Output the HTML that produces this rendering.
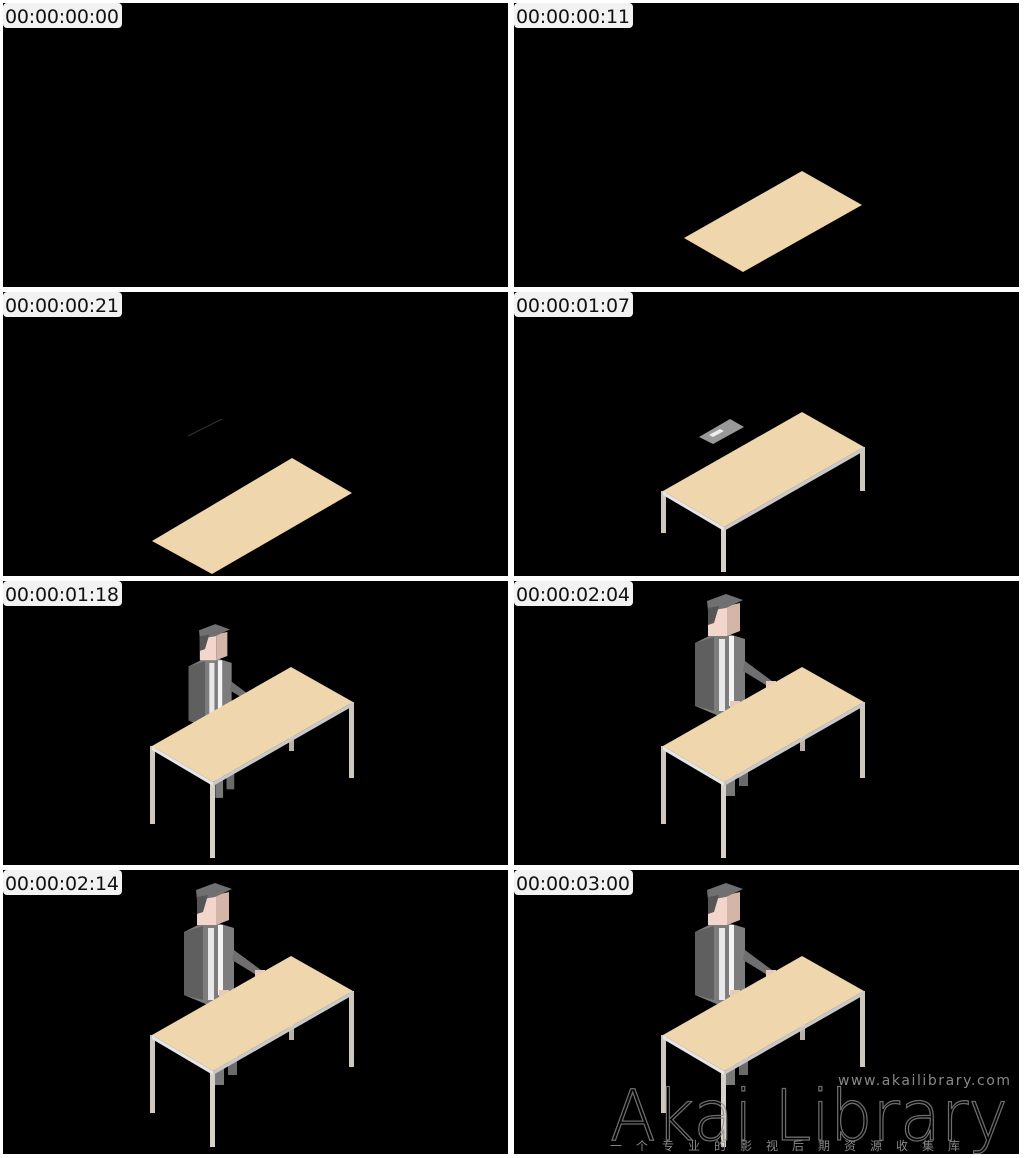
<!DOCTYPE html>
<html><head><style>
html,body{margin:0;padding:0;background:#fff;}
svg{display:block;}
.lb{font-family:"DejaVu Sans","Liberation Sans",sans-serif;font-size:19px;fill:#111;}
</style></head><body>
<svg width="1024" height="1158" viewBox="0 0 1024 1158" xmlns="http://www.w3.org/2000/svg">
<defs>
<g id="lab"><rect x="1" y="1" width="119" height="25" rx="4" fill="#f2f2f2"/></g>
<g id="top">
  <polygon points="149,165 288,86 350,121 210,201" fill="#efd6ad"/>
  <polygon points="149,165 210,201 210,205 149,169" fill="#e6e6e6"/>
  <polygon points="210,201 350,121 350,125 210,205" fill="#c9c9c9"/>
</g>
<g id="table">
  <rect x="147" y="165" width="5" height="78" fill="#cfc9bd"/>
  <rect x="207" y="201" width="5" height="76" fill="#d8d2c6"/>
  <rect x="346" y="121" width="5" height="76" fill="#cfc9bd"/>
  <rect x="286" y="130" width="5" height="40" fill="#b8b2a6"/>
  <use href="#top"/>
</g>
<g id="person">
  <rect x="212" y="150" width="9" height="65" fill="#7a7a7a"/>
  <rect x="225" y="140" width="9" height="65" fill="#6a6a6a"/>
  <polygon points="181,62 205,50 231,58 231,130 205,135 181,125" fill="#7d7d7d"/>
  <polygon points="181,62 200,56 200,130 181,125" fill="#5f5f5f"/>
  <rect x="205" y="58" width="6" height="72" fill="#e8e8e8"/>
  <rect x="215" y="55" width="5" height="70" fill="#f4f4f4"/>
  <polygon points="231,80 258,100 255,106 229,90" fill="#6f6f6f"/>
  <rect x="252" y="100" width="10" height="10" fill="#e7c9bd"/>
  <rect x="216" y="120" width="10" height="10" fill="#e7c9bd"/>
  <polygon points="194,27 213,25 213,55 194,55" fill="#f2d6cc"/>
  <polygon points="213,25 226,22 226,50 213,55" fill="#d4b5aa"/>
  <polygon points="193,20 212,13 229,19 212,27 194,30" fill="#707070"/>
  <polygon points="194,27 205,25 200,42 194,44" fill="#555"/>
</g>
<clipPath id="c"><rect x="0" y="0" width="505" height="284"/></clipPath>
</defs>
<rect x="3" y="3" width="505" height="284" fill="#000"/>
<rect x="514" y="3" width="505" height="284" fill="#000"/>
<rect x="3" y="292" width="505" height="284" fill="#000"/>
<rect x="514" y="292" width="505" height="284" fill="#000"/>
<rect x="3" y="581" width="505" height="284" fill="#000"/>
<rect x="514" y="581" width="505" height="284" fill="#000"/>
<rect x="3" y="870" width="505" height="284" fill="#000"/>
<rect x="514" y="870" width="505" height="284" fill="#000"/>

<polygon points="684,238 802,171 862,205 743,272" fill="#efd6ad"/>
<polygon points="152,541 292,458 352,493 212,574" fill="#efd6ad"/>
<line x1="188" y1="436" x2="222" y2="419" stroke="#333" stroke-width="1"/>

<!-- panel 4 -->
<g transform="translate(514,326)">
  <rect x="147" y="165" width="5" height="42" fill="#cfc9bd"/>
  <rect x="207" y="201" width="5" height="45" fill="#d8d2c6"/>
  <rect x="346" y="121" width="5" height="44" fill="#cfc9bd"/>
  <rect x="286" y="130" width="4" height="14" fill="#b8b2a6"/>
  <use href="#top"/>
</g>
<polygon points="699,437 730,419 744,427 713,444" fill="#999"/>
<polygon points="709,435 720,429 724,431 713,437" fill="#eee"/>

<g transform="translate(3,581)" clip-path="url(#c)">
  <g transform="translate(30,32) scale(0.86)"><use href="#person"/></g>
  <use href="#table"/>
</g>
<g transform="translate(514,581)" clip-path="url(#c)"><use href="#person"/><use href="#table"/></g>
<g transform="translate(3,870)" clip-path="url(#c)"><use href="#person"/><use href="#table"/></g>
<g transform="translate(514,870)" clip-path="url(#c)"><use href="#person"/><use href="#table"/></g>

<text x="610" y="1140" font-family="DejaVu Sans,sans-serif" font-size="70" font-weight="200" fill="none" stroke="#888" stroke-width="1.3" opacity="0.8" textLength="398" lengthAdjust="spacingAndGlyphs">Akai Library</text>
<text x="838" y="1085" font-family="DejaVu Sans,sans-serif" font-size="14" fill="#888" textLength="172">www.akailibrary.com</text>
<text x="610" y="1150" font-family="Noto Sans CJK SC,sans-serif" font-size="12" fill="#888" letter-spacing="14">一个专业的影视后期资源收集库</text>

<g transform="translate(2,2)"><use href="#lab"/><text class="lb" x="3" y="21" textLength="114">00:00:00:00</text></g>
<g transform="translate(513,2)"><use href="#lab"/><text class="lb" x="3" y="21" textLength="114">00:00:00:11</text></g>
<g transform="translate(2,291)"><use href="#lab"/><text class="lb" x="3" y="21" textLength="114">00:00:00:21</text></g>
<g transform="translate(513,291)"><use href="#lab"/><text class="lb" x="3" y="21" textLength="114">00:00:01:07</text></g>
<g transform="translate(2,580)"><use href="#lab"/><text class="lb" x="3" y="21" textLength="114">00:00:01:18</text></g>
<g transform="translate(513,580)"><use href="#lab"/><text class="lb" x="3" y="21" textLength="114">00:00:02:04</text></g>
<g transform="translate(2,869)"><use href="#lab"/><text class="lb" x="3" y="21" textLength="114">00:00:02:14</text></g>
<g transform="translate(513,869)"><use href="#lab"/><text class="lb" x="3" y="21" textLength="114">00:00:03:00</text></g>
</svg>
</body></html>
